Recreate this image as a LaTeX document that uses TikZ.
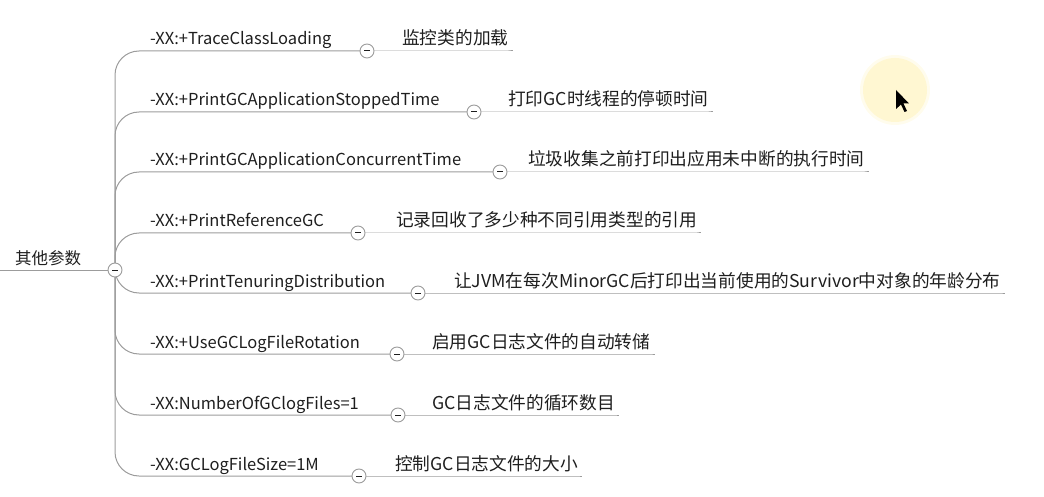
\documentclass[tikz,border=0pt]{standalone}
\usepackage{fontspec}
\setmainfont{Noto Sans CJK SC}
\usetikzlibrary{backgrounds}
\definecolor{ln}{HTML}{9C9C9C}
\definecolor{tx}{HTML}{1E1E1E}
\definecolor{glow}{HTML}{FFF7D2}
\tikzset{
  ptext/.style={anchor=base west, inner sep=0pt, text=tx, font=\fontsize{16.5}{16.5}\selectfont},
  ctext/.style={anchor=base west, inner sep=0pt, text=tx, font=\fontsize{17.7}{17.7}\selectfont},
  rtext/.style={anchor=base west, inner sep=0pt, text=tx, font=\fontsize{16.5}{16.5}\selectfont},
  knob/.style={circle, draw=ln, fill=white, line width=0.9pt, minimum size=14pt, inner sep=0pt,
    path picture={\draw[tx, line width=1pt] ([xshift=-3pt]path picture bounding box.center) -- ([xshift=3pt]path picture bounding box.center);}},
  link/.style={draw=ln, line width=1pt},
  elbow/.style={link, rounded corners=24pt},
}
\begin{document}
\begin{tikzpicture}[x=1pt, y=-1pt]
\useasboundingbox (0,0) rectangle (1044,497);
% highlight and cursor
\fill[glow!40!white] (895,90) circle (35);
\fill[glow] (895,90) circle (32);
\fill[black] (896,90) -- ++(0,19) -- ++(5,-4.5) -- ++(3.5,7.5) -- ++(2.5,-1) -- ++(-3.5,-7.5) -- ++(5.5,0) -- cycle;
% root
\node[rtext] (root) at (15,265) {其他参数};
\coordinate (r0) at (0,270);
\node[knob] (rc) at (115,270) {};
\foreach \i/\L/\C/\S/\P/\Q in {
  1/51/367/402/{-XX:+TraceClassLoading}/{监控类的加载},
  2/112/474/508/{-XX:+PrintGCApplicationStoppedTime}/{打印GC时线程的停顿时间},
  3/172/500/528/{-XX:+PrintGCApplicationConcurrentTime}/{垃圾收集之前打印出应用未中断的执行时间},
  4/233/358/396/{-XX:+PrintReferenceGC}/{记录回收了多少种不同引用类型的引用},
  5/293/418/454/{-XX:+PrintTenuringDistribution}/{让JVM在每次MinorGC后打印出当前使用的Survivor中对象的年龄分布},
  6/354/397/432/{-XX:+UseGCLogFileRotation}/{启用GC日志文件的自动转储},
  7/415/398/432/{-XX:NumberOfGClogFiles=1}/{GC日志文件的循环数目},
  8/476/359/395/{-XX:GCLogFileSize=1M}/{控制GC日志文件的大小}}{
  \node[ptext] (p\i) at (150,\L-6) {\P};
  \node[knob] (c\i) at (\C,\L) {};
  \node[ctext] (q\i) at (\S,\L-6) {\Q};
}
\begin{pgfonlayer}{background}
  \draw[link] (r0) -- (rc.center);
  \foreach \i in {1,...,8}{
    \draw[elbow] (rc.center) |- (c\i.center);
    \draw[link] (c\i.center) -- (c\i.center -| q\i.east) -- ++(4,0);
  }
\end{pgfonlayer}
\end{tikzpicture}
\end{document}
